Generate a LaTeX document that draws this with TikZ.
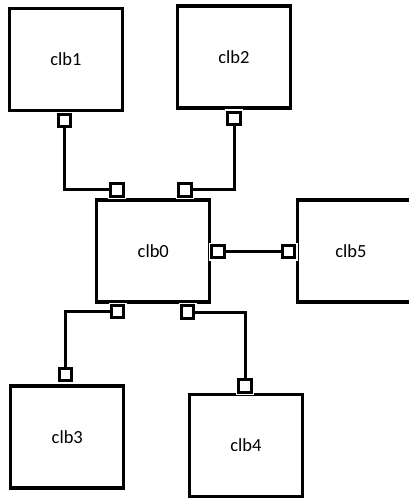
\documentclass[tikz,border=0pt]{standalone}
\usepackage{fontspec}
\setmainfont{Carlito}
\usepackage{tikz}
\usetikzlibrary{arrows}

\tikzset{
  clb/.style={draw, line width=3.2pt, minimum width=113pt, minimum height=102pt, font=\fontsize{18.5}{20}\selectfont},
  port/.style={draw, line width=3pt, fill=white, minimum size=12.5pt, inner sep=0pt,
               preaction={draw=white, line width=5.5pt}},
  wire/.style={line width=3pt}
}

\begin{document}
\begin{tikzpicture}[x=1pt,y=-1pt]
\useasboundingbox (0,0) rectangle (409,499);

% logic blocks
\node[clb] (clb1) at (66,59.3) {clb1};
\node[clb] (clb2) at (234,57) {clb2};
\node[clb] (clb0) at (153.3,251) {clb0};
\node[clb, minimum width=119pt] (clb5) at (357,251) {\hspace*{-12pt}clb5};
\node[clb] (clb3) at (67.3,437) {clb3};
\node[clb] (clb4) at (246,445.3) {clb4};

% pins
\node[port] (p1) at (64.5,120.5) {};
\node[port] (p2) at (234,118.3) {};
\node[port] (p0a) at (117,189.8) {};
\node[port] (p0b) at (185,189.8) {};
\node[port] (p0r) at (218,251.7) {};
\node[port] (p5) at (288.5,251.7) {};
\node[port] (p0c) at (117.5,311.5) {};
\node[port] (p0d) at (187.5,312) {};
\node[port] (p3) at (65.5,374.5) {};
\node[port] (p4) at (245,386) {};

% routing
\draw[wire] (p1) |- (p0a);
\draw[wire] (p2) |- (p0b);
\draw[wire] (p0r) -- (p5);
\draw[wire] (p0c) -| (p3);
\draw[wire] (p0d) -| (p4);

\end{tikzpicture}
\end{document}
